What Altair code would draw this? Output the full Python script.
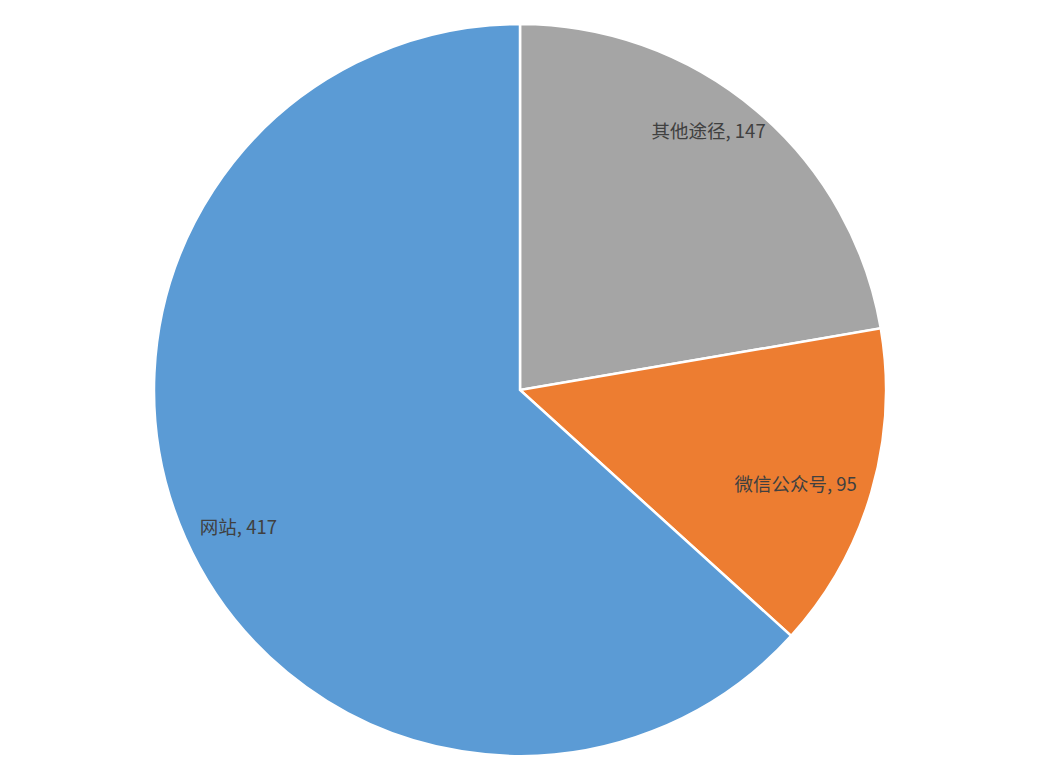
import altair as alt
import pandas as pd

# slices, clockwise from 12 o'clock as they appear in the picture
channels = ["其他途径", "微信公众号", "网站"]
counts = [147, 95, 417]
colors = ["#A5A5A5", "#ED7D31", "#5B9BD5"]

data = pd.DataFrame({
    "channel": channels,
    "count": counts,
    "order": list(range(len(channels))),
})
data["label"] = data["channel"] + ", " + data["count"].astype(str)

base = alt.Chart(data).encode(
    theta=alt.Theta("count:Q", stack=True),
    order=alt.Order("order:Q"),
)

pie = base.mark_arc(outerRadius=366, stroke="white", strokeWidth=2.5).encode(
    color=alt.Color("channel:N", sort=channels,
                    scale=alt.Scale(domain=channels, range=colors), legend=None)
)

# label nudges so each sits where the original data labels are
nudges = {"其他途径": (-10, -23), "微信公众号": (-20, 9), "网站": (0, 13)}

layers = [pie]
for name, (ox, oy) in nudges.items():
    layers.append(
        base.mark_text(radius=308, fontSize=18.5, color="#404040",
                       font="Noto Sans CJK SC", dx=ox, dy=oy)
        .encode(text="label:N",
                opacity=alt.condition(alt.datum.channel == name,
                                      alt.value(1), alt.value(0)))
    )

chart = alt.layer(*layers).properties(
    width=1024, height=764,
    autosize=alt.AutoSizeParams(type="fit", contains="padding"),
    padding=0,
).configure_view(stroke=None)

chart.save("out.html", embed_options={"renderer": "svg", "actions": False})
